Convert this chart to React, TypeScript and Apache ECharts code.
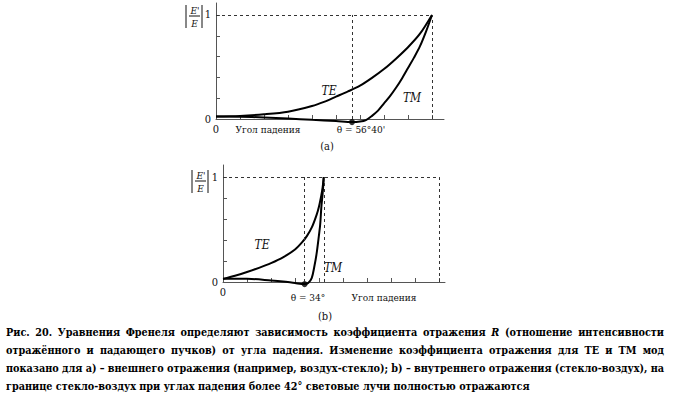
import React, { useEffect, useRef } from "react";
import * as echarts from "echarts";

// ---- Data (a): external reflection ----
const anglesTeA = [0, 10, 20, 30, 40, 45, 50, 55, 60, 65, 70, 75, 80, 85, 90];
const teA = [0.025, 0.03, 0.045, 0.07, 0.125, 0.165, 0.215, 0.265, 0.32, 0.395, 0.48, 0.58, 0.69, 0.82, 1.0];
const anglesTmA = [0, 10, 20, 30, 40, 50, 56.67, 60, 62.5, 65, 67.5, 70, 72.5, 75, 77.5, 80, 82.5, 85, 87.5, 90];
const tmA = [0.025, 0.022, 0.015, 0.005, -0.008, -0.02, -0.03, -0.025, -0.01, 0.03, 0.08, 0.15, 0.22, 0.3, 0.39, 0.49, 0.59, 0.7, 0.84, 1.0];
const brewsterA = 56.67;
const edgeA = 90;

// ---- Data (b): internal reflection ----
const anglesTeB = [0, 5, 10, 15, 20, 25, 30, 33, 35, 37, 39, 40, 41, 41.5, 42];
const teB = [0.03, 0.06, 0.095, 0.135, 0.18, 0.235, 0.31, 0.38, 0.44, 0.52, 0.64, 0.72, 0.83, 0.9, 1.0];
const anglesTmB = [0, 10, 20, 25, 30, 34, 35.5, 37, 38, 39, 40, 40.5, 41, 41.5, 42];
const tmB = [0.03, 0.03, 0.015, 0.005, -0.01, -0.02, -0.01, 0.04, 0.14, 0.27, 0.45, 0.55, 0.72, 0.84, 1.0];
const brewsterB = 34;
const criticalB = 42;
const edgeB = 90;

const xTicks = [10, 20, 30, 40, 50, 60, 70, 80, 90];
const yTicks = [0.2, 0.4, 0.6, 0.8, 1.0];
const yLabels = [0, 1];

const captionLines = [
  "Рис. 20. Уравнения Френеля определяют зависимость коэффициента отражения R (отношение интенсивности",
  "отражённого и падающего пучков) от угла падения. Изменение коэффициента отражения для TE и TM мод",
  "показано для а) – внешнего отражения (например, воздух-стекло); b) – внутреннего отражения (стекло-воздух), на",
  "границе стекло-воздух при углах падения более 42° световые лучи полностью отражаются",
];
const captionJustify = [true, true, true, false];

const SERIF = "DejaVu Serif Condensed, DejaVu Serif, serif";
const INK = "#111";

function zip(xs: number[], ys: number[]) {
  return xs.map((x, i) => [x, ys[i]]);
}

function measure(text: string, font: string) {
  const ctx = document.createElement("canvas").getContext("2d")!;
  ctx.font = font;
  return ctx.measureText(text).width;
}

function captionGraphics() {
  const left = 6;
  const right = 664;
  const fs = 10.75;
  const out: any[] = [];
  captionLines.forEach((line, li) => {
    const y = 332 + li * 18;
    const words = line.split(" ");
    const fonts = words.map((w) => (w === "R" ? `italic bold ${fs}px ${SERIF}` : `bold ${fs}px ${SERIF}`));
    const widths = words.map((w, i) => measure(w, fonts[i]));
    const spaceW = measure(" ", `bold ${fs}px ${SERIF}`);
    const total = widths.reduce((a, b) => a + b, 0);
    const gap = captionJustify[li] && words.length > 1 ? (right - left - total) / (words.length - 1) : spaceW;
    let x = left;
    words.forEach((w, i) => {
      out.push({
        type: "text",
        x,
        y,
        silent: true,
        style: {
          text: w,
          fontSize: fs,
          fontWeight: "bold",
          fontStyle: w === "R" ? "italic" : "normal",
          fontFamily: SERIF,
          fill: "#000",
          verticalAlign: "middle",
          align: "left",
        },
      });
      x += widths[i] + gap;
    });
  });
  return out;
}

function txt(text: string, x: number, y: number, size: number, opts: any = {}) {
  return {
    type: "text",
    x,
    y,
    silent: true,
    style: {
      text,
      fontSize: size,
      fontFamily: SERIF,
      fill: INK,
      align: "center",
      verticalAlign: "middle",
      ...opts,
    },
  };
}

function fraction(cx: number, top: number) {
  const lineStyle = { stroke: INK, lineWidth: 1 };
  return [
    txt("E'", cx + 1, top + 5, 10, { fontStyle: "italic" }),
    { type: "line", silent: true, shape: { x1: cx - 5, y1: top + 11, x2: cx + 6, y2: top + 11 }, style: lineStyle },
    txt("E", cx + 0.5, top + 18, 10, { fontStyle: "italic" }),
    { type: "line", silent: true, shape: { x1: cx - 8, y1: top, x2: cx - 8, y2: top + 23 }, style: lineStyle },
    { type: "line", silent: true, shape: { x1: cx + 8, y1: top, x2: cx + 8, y2: top + 23 }, style: lineStyle },
  ];
}

const axisLineStyle = { color: "#555", width: 1 };

function xAxisDef(gridIndex: number, max: number) {
  return {
    type: "value",
    gridIndex,
    min: 0,
    max,
    axisLine: { show: true, onZero: false, lineStyle: axisLineStyle },
    axisTick: { show: true, inside: true, length: 4, customValues: xTicks, lineStyle: axisLineStyle },
    axisLabel: {
      show: true,
      customValues: [0],
      formatter: () => "0",
      margin: 5,
      fontFamily: SERIF,
      fontSize: 11,
      color: INK,
    },
    splitLine: { show: false },
  };
}

function yAxisDef(gridIndex: number, max: number) {
  return {
    type: "value",
    gridIndex,
    min: 0,
    max,
    axisLine: { show: true, onZero: false, lineStyle: axisLineStyle },
    axisTick: { show: true, inside: true, length: 4, customValues: yTicks, lineStyle: axisLineStyle },
    axisLabel: {
      show: true,
      customValues: yLabels,
      formatter: (v: number) => String(Math.round(v)),
      margin: 5,
      fontFamily: SERIF,
      fontSize: 11,
      color: INK,
    },
    splitLine: { show: false },
  };
}

function curve(name: string, data: number[][], idx: number, extra: any = {}) {
  return {
    name,
    type: "line",
    xAxisIndex: idx,
    yAxisIndex: idx,
    data,
    smooth: 0.3,
    showSymbol: false,
    symbol: "none",
    clip: false,
    lineStyle: { color: "#000", width: 2 },
    ...extra,
  };
}

function guides(lines: number[][][]) {
  return {
    symbol: "none",
    silent: true,
    label: { show: false },
    lineStyle: { type: [3, 3], color: "#333", width: 1 },
    data: lines.map(([a, b]) => [{ coord: a }, { coord: b }]),
  };
}

export default function App() {
  const ref = useRef<HTMLDivElement>(null);
  useEffect(() => {
    if (!ref.current) return;
    const chart = echarts.init(ref.current, undefined, { renderer: "svg" });
    const yMax = 1.115;
    const xMaxA = 95;
    const xMaxB = 92.5;
    chart.setOption({
      animation: false,
      textStyle: { fontFamily: SERIF },
      grid: [
        { left: 216, top: 3, width: xMaxA * 2.4, height: 116 },
        { left: 223, top: 165, width: xMaxB * 2.4, height: 117 },
      ],
      xAxis: [xAxisDef(0, xMaxA), xAxisDef(1, xMaxB)],
      yAxis: [yAxisDef(0, yMax), yAxisDef(1, yMax)],
      series: [
        curve("TE a", zip(anglesTeA, teA), 0, {
          markLine: guides([
            [[0, 1], [edgeA, 1]],
            [[brewsterA, 0], [brewsterA, 1]],
            [[edgeA, 0], [edgeA, 1]],
          ]),
        }),
        curve("TM a", zip(anglesTmA, tmA), 0),
        {
          type: "scatter",
          xAxisIndex: 0,
          yAxisIndex: 0,
          clip: false,
          symbolSize: 6,
          itemStyle: { color: "#000" },
          data: [[brewsterA, tmA[anglesTmA.indexOf(brewsterA)]]],
        },
        curve("TE b", zip(anglesTeB, teB), 1, {
          markLine: guides([
            [[0, 1], [edgeB, 1]],
            [[brewsterB, 0], [brewsterB, 1]],
            [[criticalB, 0], [criticalB, 1]],
            [[edgeB, 0], [edgeB, 1]],
          ]),
        }),
        curve("TM b", zip(anglesTmB, tmB), 1),
        {
          type: "scatter",
          xAxisIndex: 1,
          yAxisIndex: 1,
          clip: false,
          symbolSize: 6,
          itemStyle: { color: "#000" },
          data: [[brewsterB, tmB[anglesTmB.indexOf(brewsterB)]]],
        },
      ],
      graphic: [
        ...fraction(194, 5),
        txt("TE", 329, 91, 12, { fontStyle: "italic" }),
        txt("TM", 412, 98, 12, { fontStyle: "italic" }),
        txt("Угол падения", 268, 129, 10),
        txt("θ = 56°40'", 361, 129, 10),
        txt("(a)", 327, 146, 11),
        ...fraction(200, 170),
        txt("TE", 262, 245, 12, { fontStyle: "italic" }),
        txt("TM", 333, 268, 12, { fontStyle: "italic" }),
        txt("θ = 34°", 308, 297, 10),
        txt("Угол падения", 384, 297, 10),
        txt("(b)", 325, 316, 11),
        ...captionGraphics(),
      ],
    });
    return () => chart.dispose();
  }, []);
  return (
    <div
      ref={ref}
      style={{ position: "absolute", left: 0, top: 0, width: 676, height: 398, background: "#fff" }}
    />
  );
}
